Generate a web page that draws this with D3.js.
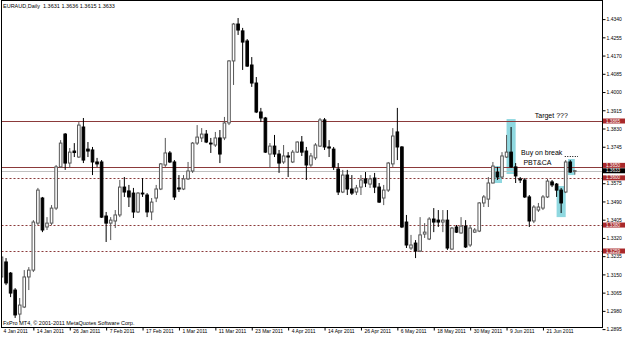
<!DOCTYPE html>
<html>
<head>
<meta charset="utf-8">
<script src="https://cdn.jsdelivr.net/npm/d3@7"></script>
<style>
  body { margin: 0; background: #fff; }
  svg { display: block; font-family: "Liberation Sans", Arial, sans-serif; }
</style>
</head>
<body>
<svg id="chart" width="625" height="341"></svg>
<script>
// EURAUD daily, 4 Jan - end of Jun 2011
var chartTitle = "EURAUD,Daily  1.3631 1.3636 1.3615 1.3633";
var copyright = "FxPro MT4, \u00a9 2001-2011 MetaQuotes Software Corp.";

var opens = [
  1.3100,1.3138,1.3208,1.3156,1.3077,1.2965,1.2998,1.3138,1.3170,1.3389,
  1.3506,1.3371,1.3389,1.3459,1.3651,1.3804,1.3669,1.3725,1.3697,1.3837,
  1.3734,1.3730,1.3674,1.3674,1.3422,1.3389,1.3399,1.3427,1.3557,1.3539,
  1.3529,1.3441,1.3529,1.3520,1.3441,1.3506,1.3548,1.3660,1.3716,1.3674,
  1.3553,1.3548,1.3595,1.3632,1.3762,1.3786,1.3804,1.3762,1.3753,1.3786,
  1.3786,1.3856,1.4145,1.4317,1.4285,1.4238,1.4126,1.4042,1.3907,1.3879,
  1.3711,1.3748,1.3711,1.3674,1.3702,1.3674,1.3720,1.3767,1.3725,1.3660,
  1.3693,1.3748,1.3870,1.3744,1.3734,1.3641,1.3534,1.3613,1.3548,1.3534,
  1.3557,1.3595,1.3571,1.3599,1.3557,1.3506,1.3543,1.3665,1.3814,1.3744,
  1.3394,1.3273,1.3296,1.3259,1.3338,1.3315,1.3408,1.3403,1.3394,1.3403,
  1.3268,1.3371,1.3343,1.3375,1.3287,1.3347,1.3352,1.3483,1.3501,1.3576,
  1.3627,1.3604,1.3697,1.3720,1.3651,1.3595,1.3590,1.3511,1.3399,1.3450,
  1.3459,1.3511,1.3581,1.3571,1.3543,1.3534,1.3674,1.3631
];
var highs = [
  1.3180,1.3334,1.3226,1.3161,1.3086,1.3040,1.3170,1.3184,1.3403,1.3553,
  1.3511,1.3417,1.3473,1.3660,1.3776,1.3809,1.3739,1.3762,1.3860,1.3879,
  1.3767,1.3744,1.3693,1.3683,1.3441,1.3417,1.3450,1.3590,1.3604,1.3567,
  1.3553,1.3534,1.3599,1.3529,1.3506,1.3567,1.3669,1.3786,1.3725,1.3683,
  1.3613,1.3613,1.3674,1.3767,1.3846,1.3832,1.3823,1.3786,1.3814,1.3823,
  1.3884,1.4149,1.4322,1.4345,1.4299,1.4247,1.4163,1.4070,1.3926,1.3884,
  1.3762,1.3800,1.3730,1.3753,1.3720,1.3730,1.3770,1.3795,1.3744,1.3716,
  1.3762,1.3879,1.3879,1.3776,1.3744,1.3669,1.3637,1.3637,1.3613,1.3567,
  1.3613,1.3627,1.3613,1.3623,1.3576,1.3567,1.3674,1.3832,1.3926,1.3748,
  1.3427,1.3334,1.3310,1.3417,1.3389,1.3417,1.3459,1.3450,1.3450,1.3450,
  1.3371,1.3380,1.3417,1.3403,1.3380,1.3366,1.3487,1.3520,1.3604,1.3674,
  1.3651,1.3720,1.3800,1.3837,1.3669,1.3604,1.3599,1.3520,1.3473,1.3483,
  1.3520,1.3595,1.3590,1.3576,1.3553,1.3683,1.3683,1.3636
];
var lows = [
  1.3080,1.3114,1.3100,1.3044,1.2947,1.2928,1.2993,1.3077,1.3161,1.3380,
  1.3347,1.3357,1.3380,1.3450,1.3646,1.3637,1.3646,1.3697,1.3693,1.3669,
  1.3697,1.3613,1.3651,1.3413,1.3301,1.3310,1.3366,1.3417,1.3511,1.3464,
  1.3413,1.3436,1.3511,1.3417,1.3403,1.3487,1.3543,1.3651,1.3669,1.3497,
  1.3534,1.3543,1.3590,1.3623,1.3753,1.3767,1.3762,1.3716,1.3744,1.3669,
  1.3776,1.3846,1.4033,1.4266,1.4103,1.4117,1.4024,1.3902,1.3860,1.3716,
  1.3646,1.3697,1.3623,1.3665,1.3604,1.3669,1.3716,1.3702,1.3590,1.3651,
  1.3683,1.3744,1.3730,1.3697,1.3637,1.3520,1.3529,1.3520,1.3520,1.3520,
  1.3520,1.3557,1.3553,1.3529,1.3483,1.3473,1.3534,1.3651,1.3683,1.3366,
  1.3273,1.3264,1.3226,1.3254,1.3320,1.3310,1.3347,1.3371,1.3347,1.3264,
  1.3264,1.3343,1.3340,1.3273,1.3278,1.3343,1.3347,1.3464,1.3464,1.3574,
  1.3590,1.3599,1.3693,1.3646,1.3576,1.3576,1.3506,1.3371,1.3389,1.3441,
  1.3450,1.3506,1.3557,1.3511,1.3436,1.3529,1.3623,1.3615
];
var closes = [
  1.3130,1.3231,1.3110,1.3063,1.2961,1.3007,1.3138,1.3170,1.3394,1.3543,
  1.3357,1.3389,1.3459,1.3651,1.3762,1.3669,1.3720,1.3718,1.3846,1.3683,
  1.3725,1.3674,1.3665,1.3417,1.3389,1.3403,1.3427,1.3557,1.3534,1.3511,
  1.3441,1.3529,1.3525,1.3441,1.3487,1.3548,1.3665,1.3716,1.3674,1.3511,
  1.3548,1.3595,1.3632,1.3762,1.3790,1.3804,1.3767,1.3758,1.3786,1.3711,
  1.3856,1.4145,1.4317,1.4289,1.4233,1.4121,1.4042,1.3907,1.3879,1.3720,
  1.3748,1.3711,1.3669,1.3702,1.3697,1.3720,1.3767,1.3720,1.3660,1.3702,
  1.3753,1.3870,1.3744,1.3739,1.3651,1.3534,1.3613,1.3548,1.3529,1.3553,
  1.3590,1.3576,1.3595,1.3557,1.3487,1.3543,1.3669,1.3795,1.3744,1.3371,
  1.3287,1.3287,1.3259,1.3334,1.3347,1.3408,1.3394,1.3394,1.3403,1.3273,
  1.3366,1.3347,1.3375,1.3278,1.3366,1.3357,1.3483,1.3511,1.3576,1.3655,
  1.3604,1.3702,1.3720,1.3651,1.3609,1.3590,1.3511,1.3399,1.3464,1.3464,
  1.3511,1.3585,1.3567,1.3543,1.3483,1.3674,1.3627,1.3633
];

// time scale labels (bar index of each)
var dateBars = [0, 8, 16, 24, 32, 40, 48, 56, 64, 72, 80, 88, 96, 104, 112, 120];
var dateLabels = ["4 Jan 2011", "14 Jan 2011", "26 Jan 2011", "7 Feb 2011", "17 Feb 2011",
  "1 Mar 2011", "11 Mar 2011", "23 Mar 2011", "4 Apr 2011", "14 Apr 2011", "26 Apr 2011",
  "6 May 2011", "18 May 2011", "30 May 2011", "9 Jun 2011", "21 Jun 2011"];

var priceTicks = [1.2895, 1.2980, 1.3065, 1.3150, 1.3235, 1.3320, 1.3405, 1.3490, 1.3575,
  1.3660, 1.3745, 1.3830, 1.3915, 1.4000, 1.4085, 1.4170, 1.4255, 1.4340];

// drawn objects
var solidLevels = [1.3865, 1.3650];
var dottedLevels = [1.3600, 1.3380, 1.3259];
var bidPrice = 1.3633;

var boxFrom = [109, 112, 123, 125.5];
var boxTo = [111, 114, 125, 127];
var boxHigh = [1.3655, 1.3874, 1.3562, 1.3688];
var boxLow = [1.3576, 1.3618, 1.3417, 1.3613];

var noteTexts = ["Target ???", "Buy on break", "PBT&CA"];
var noteBars = [118.2, 115.2, 115.7];
var notePrices = [1.3877, 1.3707, 1.3660];

var breakFrom = 124.8, breakTo = 127.7, breakPrice = 1.3702;

// ---------------------------------------------------------------
var plotLeft = 1.5, plotRight = 602.5, plotTop = 0.5, plotBottom = 327.5;
var lineColor = "#8b3a3a", tagColor = "#a8292b", boxColor = "#8fd8e0", bullColor = "#555";
var tagHeight = 5;

var x = d3.scaleLinear().domain([0, 120]).range([-3.05, 542.95]);
var y = d3.scaleLinear().domain([1.2895, 1.4340]).range([329.1, 19.1]);

var svg = d3.select("#chart");

svg.append("defs").append("clipPath").attr("id", "plotClip")
  .append("rect")
    .attr("x", plotLeft).attr("y", plotTop)
    .attr("width", plotRight - plotLeft).attr("height", plotBottom - plotTop);

var plot = svg.append("g").attr("clip-path", "url(#plotClip)");

// highlight boxes
plot.selectAll("rect.box")
    .data(boxFrom)
  .enter().append("rect")
    .attr("class", "box")
    .attr("x", function(d){ return x(d); })
    .attr("width", function(d, i){ return x(boxTo[i]) - x(d); })
    .attr("y", function(d, i){ return y(boxHigh[i]); })
    .attr("height", function(d, i){ return y(boxLow[i]) - y(boxHigh[i]); })
    .attr("fill", boxColor);

// horizontal levels
plot.selectAll("line.solid")
    .data(solidLevels)
  .enter().append("line")
    .attr("x1", plotLeft).attr("x2", plotRight)
    .attr("y1", function(d){ return Math.round(y(d)) + 0.5; })
    .attr("y2", function(d){ return Math.round(y(d)) + 0.5; })
    .attr("stroke", lineColor);

plot.selectAll("line.dotted")
    .data(dottedLevels)
  .enter().append("line")
    .attr("x1", plotLeft).attr("x2", plotRight)
    .attr("y1", function(d){ return Math.round(y(d)) + 0.5; })
    .attr("y2", function(d){ return Math.round(y(d)) + 0.5; })
    .attr("stroke", lineColor)
    .attr("stroke-dasharray", "2,2");

plot.append("line")
    .attr("x1", plotLeft).attr("x2", plotRight)
    .attr("y1", Math.round(y(bidPrice)) + 0.5)
    .attr("y2", Math.round(y(bidPrice)) + 0.5)
    .attr("stroke", "#c0c0c0");

// candles
var bars = d3.range(opens.length).map(function(i){
  return {i: i, o: opens[i], h: highs[i], l: lows[i], c: closes[i]};
});

plot.selectAll("line.wick")
    .data(bars)
  .enter().append("line")
    .attr("class", "wick")
    .attr("x1", function(d){ return x(d.i); })
    .attr("x2", function(d){ return x(d.i); })
    .attr("y1", function(d){ return y(d.h); })
    .attr("y2", function(d){ return y(d.l); })
    .attr("stroke", function(d){ return d.c >= d.o ? bullColor : "#000"; });

plot.selectAll("rect.body")
    .data(bars)
  .enter().append("rect")
    .attr("class", "body")
    .attr("x", function(d){ return x(d.i) - 1.3; })
    .attr("width", 2.6)
    .attr("y", function(d){ return y(Math.max(d.o, d.c)); })
    .attr("height", function(d){ return Math.max(0.5, Math.abs(y(d.o) - y(d.c))); })
    .attr("fill", function(d){ return d.c >= d.o ? "#fff" : "#000"; })
    .attr("stroke", function(d){ return d.c >= d.o ? bullColor : "#000"; })
    .attr("stroke-width", 1);

// annotations
plot.selectAll("text.note")
    .data(noteTexts)
  .enter().append("text")
    .attr("class", "note")
    .attr("x", function(d, i){ return x(noteBars[i]); })
    .attr("y", function(d, i){ return y(notePrices[i]); })
    .attr("font-size", 7)
    .attr("fill", "#000")
    .text(function(d){ return d; });

plot.append("line")
    .attr("x1", x(breakFrom)).attr("x2", x(breakTo))
    .attr("y1", Math.round(y(breakPrice)) + 0.5)
    .attr("y2", Math.round(y(breakPrice)) + 0.5)
    .attr("stroke", "#000")
    .attr("stroke-dasharray", "1,1.5");

// frame
svg.append("rect")
    .attr("x", plotLeft).attr("y", plotTop)
    .attr("width", plotRight - plotLeft).attr("height", plotBottom - plotTop)
    .attr("fill", "none").attr("stroke", "#000");

// price tags of the levels, pushed apart like the terminal does
var tags = solidLevels.concat(dottedLevels).map(function(p){ return {p: p, fill: tagColor}; });
tags.push({p: bidPrice, fill: "#000"});
tags.forEach(function(t){ t.y = y(t.p); });
tags.sort(function(a, b){ return b.y - a.y; });
for (var k = 1; k < tags.length; k++) {
  if (tags[k - 1].y - tags[k].y < tagHeight + 0.4) tags[k].y = tags[k - 1].y - tagHeight - 0.4;
}

// price axis (scale labels hidden under a tag are skipped)
var yAxis = svg.append("g")
    .attr("transform", "translate(" + plotRight + ",0)")
    .call(d3.axisRight(y).tickValues(priceTicks).tickSize(3).tickPadding(1)
      .tickFormat(d3.format(".4f")));
yAxis.select(".domain").remove();
yAxis.attr("font-size", 5).attr("font-family", null);
yAxis.selectAll("line").attr("stroke", "#000");
yAxis.selectAll("text").attr("fill", "#000").attr("dy", "0.35em");
yAxis.selectAll(".tick text")
    .filter(function(d){ return tags.some(function(t){ return Math.abs(t.y - y(d)) < 3; }); })
    .remove();

var tagG = svg.selectAll("g.tag")
    .data(tags)
  .enter().append("g")
    .attr("class", "tag")
    .attr("transform", function(d){ return "translate(" + (plotRight + 0.5) + "," + d.y + ")"; });
tagG.append("rect")
    .attr("x", 0).attr("y", -tagHeight / 2)
    .attr("width", 22).attr("height", tagHeight)
    .attr("fill", function(d){ return d.fill; });
tagG.append("text")
    .attr("x", 3).attr("y", 0).attr("dy", "0.35em")
    .attr("font-size", 4.6).attr("fill", "#fff")
    .text(function(d){ return d3.format(".4f")(d.p); });

// time axis
var xAxis = svg.append("g")
    .attr("transform", "translate(0," + plotBottom + ")")
    .call(d3.axisBottom(x).tickValues(dateBars).tickSize(3)
      .tickFormat(function(d, i){ return dateLabels[i]; }));
xAxis.select(".domain").remove();
xAxis.attr("font-size", 5).attr("font-family", null);
xAxis.selectAll(".tick line").attr("stroke", "#000");
xAxis.selectAll(".tick text")
    .attr("fill", "#000")
    .attr("text-anchor", "start")
    .attr("x", function(d){ return Math.max(3, x(d) + 3) - x(d); })
    .attr("y", 2)
    .attr("dy", "0.71em");

// title and copyright
svg.append("text")
    .attr("x", 3).attr("y", 8)
    .attr("font-size", 5.5)
    .style("white-space", "pre")
    .text(chartTitle);

svg.append("text")
    .attr("x", 3).attr("y", 325)
    .attr("font-size", 5.5)
    .text(copyright);
</script>
</body>
</html>
